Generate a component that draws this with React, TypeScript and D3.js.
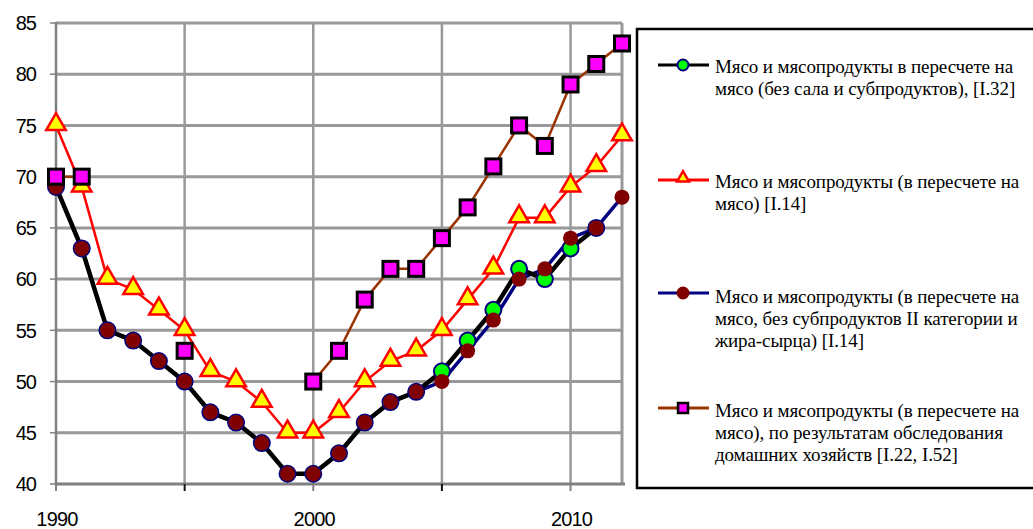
import React, { useEffect, useRef } from 'react';
import * as d3 from 'd3';

// years 1990..2012
const years = d3.range(1990, 2013);

// Мясо и мясопродукты в пересчете на мясо (без сала и субпродуктов), [I.32]
const seriesGreen: (number | null)[] = [
  69, 63, 55, 54, 52, 50, 47, 46, 44, 41, 41, 43, 46, 48, 49, 51, 54, 57, 61, 60, 63, 65, null,
];
// Мясо и мясопродукты (в пересчете на мясо) [I.14]
const seriesRed: (number | null)[] = [
  75, 69, 60, 59, 57, 55, 51, 50, 48, 45, 45, 47, 50, 52, 53, 55, 58, 61, 66, 66, 69, 71, 74,
];
// ... без субпродуктов II категории и жира-сырца [I.14]
const seriesMaroon: (number | null)[] = [
  69, 63, 55, 54, 52, 50, 47, 46, 44, 41, 41, 43, 46, 48, 49, 50, 53, 56, 60, 61, 64, 65, 68,
];
// ... по результатам обследования домашних хозяйств [I.22, I.52]
const seriesMagenta: (number | null)[] = [
  70, 70, null, null, null, 53, null, null, null, null, 50, 53, 58, 61, 61, 64, 67, 71, 75, 73, 79, 81, 83,
];

const yTicks = [40, 45, 50, 55, 60, 65, 70, 75, 80, 85];
const xTickYears = [1990, 1995, 2000, 2005, 2010];
const xLabelYears = [1990, 2000, 2010];

const legendLabels = [
  ['Мясо и мясопродукты в пересчете на', 'мясо (без сала и субпродуктов), [I.32]'],
  ['Мясо и мясопродукты (в пересчете на', 'мясо) [I.14]'],
  ['Мясо и мясопродукты (в пересчете на', 'мясо, без субпродуктов II категории и', 'жира-сырца) [I.14]'],
  ['Мясо и мясопродукты (в пересчете на', 'мясо), по результатам обследования', 'домашних хозяйств [I.22, I.52]'],
];

const W = 1033;
const H = 529;

const App: React.FC = () => {
  const ref = useRef<SVGSVGElement>(null);

  useEffect(() => {
    document.body.style.margin = '0';
    const svg = d3.select(ref.current);
    svg.selectAll('*').remove();

    const x = d3.scaleLinear().domain([1990, 2012]).range([56, 622]);
    const y = d3.scaleLinear().domain([40, 85]).range([484, 23]);

    const grid = svg.append('g');
    // horizontal gridlines
    grid
      .selectAll('line.h')
      .data(yTicks.filter((t) => t > 40))
      .enter()
      .append('line')
      .attr('x1', x(1990))
      .attr('x2', x(2012))
      .attr('y1', (d) => y(d))
      .attr('y2', (d) => y(d))
      .attr('stroke', '#999')
      .attr('stroke-width', 3);
    // vertical gridlines
    grid
      .selectAll('line.v')
      .data([1995, 2000, 2005, 2010, 2012])
      .enter()
      .append('line')
      .attr('x1', (d) => x(d))
      .attr('x2', (d) => x(d))
      .attr('y1', y(85))
      .attr('y2', y(40))
      .attr('stroke', '#999')
      .attr('stroke-width', (d) => (d === 2012 ? 3 : 2.5));

    // axes
    grid
      .append('line')
      .attr('x1', x(1990))
      .attr('x2', x(1990))
      .attr('y1', y(85) - 1)
      .attr('y2', y(40))
      .attr('stroke', '#808080')
      .attr('stroke-width', 2.5);
    grid
      .append('line')
      .attr('x1', x(1990) - 1)
      .attr('x2', x(2012) + 3)
      .attr('y1', y(40))
      .attr('y2', y(40))
      .attr('stroke', '#808080')
      .attr('stroke-width', 3);

    // y ticks + labels
    grid
      .selectAll('line.yt')
      .data(yTicks)
      .enter()
      .append('line')
      .attr('x1', x(1990) - 6)
      .attr('x2', x(1990))
      .attr('y1', (d) => y(d))
      .attr('y2', (d) => y(d))
      .attr('stroke', '#808080')
      .attr('stroke-width', 1.5);
    svg
      .selectAll('text.yl')
      .data(yTicks)
      .enter()
      .append('text')
      .attr('x', 36)
      .attr('y', (d) => y(d))
      .attr('dy', '0.36em')
      .attr('text-anchor', 'end')
      .attr('font-family', '"Liberation Sans", Arial, sans-serif')
      .attr('font-size', 20)
      .attr('letter-spacing', -1)
      .attr('fill', '#000')
      .text((d) => d);

    // x ticks + labels
    grid
      .selectAll('line.xt')
      .data(xTickYears)
      .enter()
      .append('line')
      .attr('x1', (d) => x(d))
      .attr('x2', (d) => x(d))
      .attr('y1', y(40))
      .attr('y2', y(40) + 7)
      .attr('stroke', (d) => (d % 10 === 5 ? '#111' : '#808080'))
      .attr('stroke-width', 2);
    svg
      .selectAll('text.xl')
      .data(xLabelYears)
      .enter()
      .append('text')
      .attr('x', (d) => x(d) + 1)
      .attr('y', 526)
      .attr('text-anchor', 'middle')
      .attr('font-family', '"Liberation Sans", Arial, sans-serif')
      .attr('font-size', 20)
      .attr('letter-spacing', -0.8)
      .attr('fill', '#000')
      .text((d) => d);

    const line = d3
      .line<number | null>()
      .defined((d) => d !== null)
      .x((_d, i) => x(years[i]))
      .y((d) => y(d as number));

    const plot = svg.append('g');
    plot.append('path').datum(seriesMaroon).attr('d', line).attr('fill', 'none').attr('stroke', '#000080').attr('stroke-width', 3.5);
    plot.append('path').datum(seriesGreen).attr('d', line).attr('fill', 'none').attr('stroke', '#000').attr('stroke-width', 4.5);
    plot.append('path').datum(seriesRed).attr('d', line).attr('fill', 'none').attr('stroke', '#ff0000').attr('stroke-width', 2.5);
    plot.append('path').datum(seriesMagenta).attr('d', line).attr('fill', 'none').attr('stroke', '#993300').attr('stroke-width', 2.5);

    const pts = (s: (number | null)[]) =>
      s.map((v, i) => ({ v, yr: years[i] })).filter((d) => d.v !== null) as { v: number; yr: number }[];

    const tri = d3.symbol().type(d3.symbolTriangle).size(165);

    plot
      .selectAll('circle.g')
      .data(pts(seriesGreen))
      .enter()
      .append('circle')
      .attr('cx', (d) => x(d.yr))
      .attr('cy', (d) => y(d.v))
      .attr('r', 8)
      .attr('fill', '#00ff00')
      .attr('stroke', '#000080')
      .attr('stroke-width', 2);
    plot
      .selectAll('path.t')
      .data(pts(seriesRed))
      .enter()
      .append('path')
      .attr('d', tri)
      .attr('transform', (d) => `translate(${x(d.yr)},${y(d.v) - 1})`)
      .attr('fill', '#ffff00')
      .attr('stroke', '#ff0000')
      .attr('stroke-width', 2.5);
    plot
      .selectAll('circle.m')
      .data(pts(seriesMaroon))
      .enter()
      .append('circle')
      .attr('cx', (d) => x(d.yr))
      .attr('cy', (d) => y(d.v))
      .attr('r', 7.5)
      .attr('fill', '#800000');
    plot
      .selectAll('rect.s')
      .data(pts(seriesMagenta))
      .enter()
      .append('rect')
      .attr('x', (d) => x(d.yr) - 7.5)
      .attr('y', (d) => y(d.v) - 7.5)
      .attr('width', 15)
      .attr('height', 15)
      .attr('fill', '#ff00ff')
      .attr('stroke', '#000')
      .attr('stroke-width', 3);

    // legend
    const lg = svg.append('g');
    lg.append('rect')
      .attr('x', 637)
      .attr('y', 29)
      .attr('width', 420)
      .attr('height', 459)
      .attr('fill', '#fff')
      .attr('stroke', '#000')
      .attr('stroke-width', 2.5);

    const entryY = [65, 180, 293, 408];
    const firstBase = [73, 188, 303, 417];
    const lineH = 21.8;
    const styles = [
      { stroke: '#000', fill: '#00ff00', mstroke: '#000080', kind: 'circle' },
      { stroke: '#ff0000', fill: '#ffff00', mstroke: '#ff0000', kind: 'tri' },
      { stroke: '#000080', fill: '#800000', mstroke: '#800000', kind: 'circle' },
      { stroke: '#993300', fill: '#ff00ff', mstroke: '#000', kind: 'rect' },
    ];
    legendLabels.forEach((lines, i) => {
      const st = styles[i];
      const cy = entryY[i];
      lg.append('line')
        .attr('x1', 658)
        .attr('x2', 709)
        .attr('y1', cy)
        .attr('y2', cy)
        .attr('stroke', st.stroke)
        .attr('stroke-width', 3);
      if (st.kind === 'circle') {
        lg.append('circle').attr('cx', 683).attr('cy', cy).attr('r', 5.5).attr('fill', st.fill).attr('stroke', st.mstroke).attr('stroke-width', 2);
      } else if (st.kind === 'tri') {
        lg.append('path')
          .attr('d', d3.symbol().type(d3.symbolTriangle).size(60)())
          .attr('transform', `translate(683,${cy - 2})`)
          .attr('fill', st.fill)
          .attr('stroke', st.mstroke)
          .attr('stroke-width', 2.5);
      } else {
        lg.append('rect').attr('x', 678).attr('y', cy - 5).attr('width', 10).attr('height', 10).attr('fill', st.fill).attr('stroke', st.mstroke).attr('stroke-width', 2.5);
      }
      const t = lg
        .append('text')
        .attr('font-family', '"Liberation Serif", "Times New Roman", serif')
        .attr('font-size', 19)
        .attr('letter-spacing', -0.1)
        .attr('fill', '#000');
      lines.forEach((s, j) => {
        t.append('tspan').attr('x', 715).attr('y', firstBase[i] + j * lineH).text(s);
      });
    });
  }, []);

  return <svg ref={ref} width={W} height={H} style={{ display: 'block', background: '#fff' }} />;
};

export default App;
